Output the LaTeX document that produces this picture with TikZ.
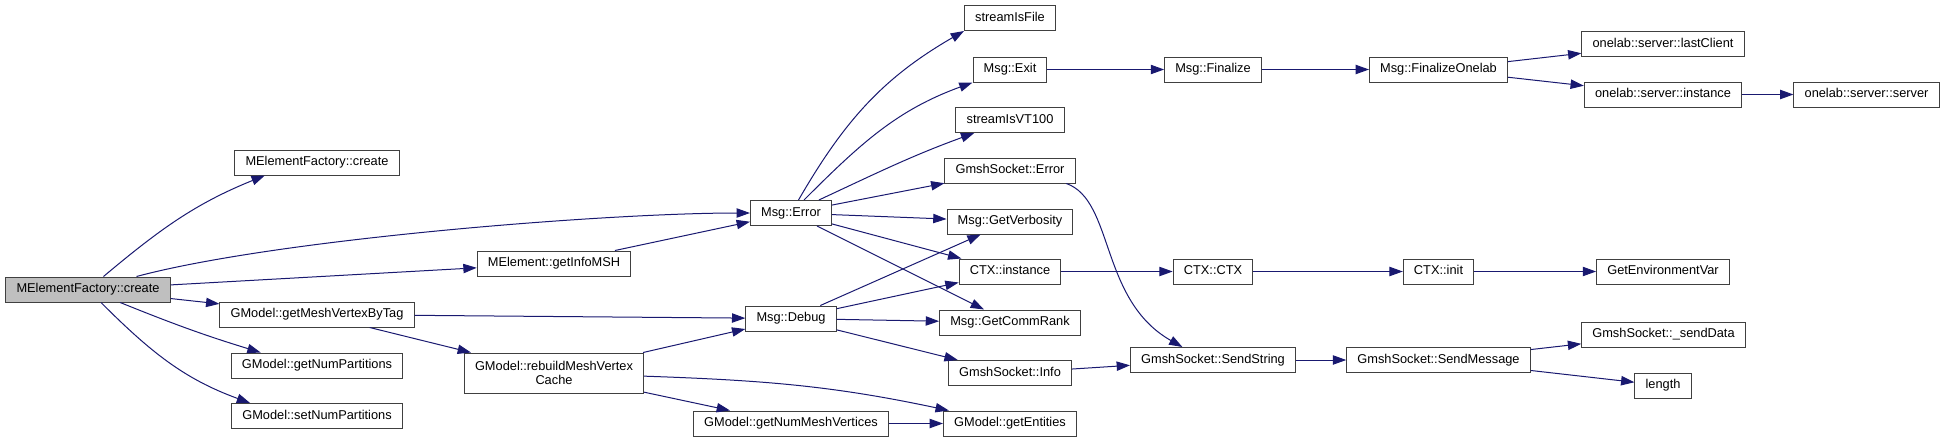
\documentclass[tikz,border=0pt]{standalone}
\usepackage{fontspec}
\setmainfont{Liberation Sans}
\usepackage{xcolor}
\usepackage{tikz}
\usetikzlibrary{arrows.meta}
\definecolor{callblue}{HTML}{191970}
\definecolor{framegrey}{HTML}{404040}
\definecolor{rootgrey}{HTML}{BFBFBF}
\tikzset{
    ->,
    >={Triangle[length=10pt,width=7pt]},
    fn/.style={draw=framegrey, line width=0.75pt, fill=white, inner xsep=8pt, inner ysep=0pt,
        minimum height=18.75pt, text height=7pt, text depth=2pt,
        font=\fontsize{9.6}{10.5}\selectfont},
    rootfn/.style={fn, fill=rootgrey},
    call/.style={draw=callblue, line width=0.75pt},
    every edge/.style={call},
}

\begin{document}
\begin{tikzpicture}[x=0.75pt, y=-0.75pt]
    \useasboundingbox (0,0) rectangle (1944,443);

    % caller and first level
    \node[rootfn] (create)  at (88,289.5)  {MElementFactory::create};
    \node[fn]     (fcreate) at (317,162.5) {MElementFactory::create};
    \node[fn]     (vbt)     at (317,314.5) {GModel::getMeshVertexByTag};
    \node[fn]     (numpart) at (317,365.5) {GModel::getNumPartitions};
    \node[fn]     (setpart) at (317,416)   {GModel::setNumPartitions};
    \node[fn]     (info)    at (554,263.5) {MElement::getInfoMSH};
    \node[fn, align=center, text height=, text depth=, minimum height=30pt]
                  (rebuild) at (554,373)   {GModel::rebuildMeshVertex\\Cache};
    \node[fn]     (err)     at (791,213)   {Msg::Error};
    \node[fn]     (debug)   at (791,318.5) {Msg::Debug};
    \node[fn]     (nummv)   at (791,423.5) {GModel::getNumMeshVertices};

    % middle column
    \node[fn] (sfile) at (1010,18)    {streamIsFile};
    \node[fn] (exit)  at (1010,69.5)  {Msg::Exit};
    \node[fn] (svt)   at (1010,120)   {streamIsVT100};
    \node[fn] (gerr)  at (1010,170.5) {GmshSocket::Error};
    \node[fn] (verb)  at (1010,221.5) {Msg::GetVerbosity};
    \node[fn] (ctxi)  at (1010,271.5) {CTX::instance};
    \node[fn] (rank)  at (1010,322.5) {Msg::GetCommRank};
    \node[fn] (ginfo) at (1010,373)   {GmshSocket::Info};
    \node[fn] (ents)  at (1010,423.5) {GModel::getEntities};

    % right part
    \node[fn] (fin)   at (1213,69.5)   {Msg::Finalize};
    \node[fn] (ctx)   at (1213,271.5)  {CTX::CTX};
    \node[fn] (sstr)  at (1213,360)    {GmshSocket::SendString};
    \node[fn] (fino)  at (1438.5,69.5) {Msg::FinalizeOnelab};
    \node[fn] (cinit) at (1438.5,271.5){CTX::init};
    \node[fn] (smsg)  at (1438.5,360)  {GmshSocket::SendMessage};
    \node[fn] (lastc) at (1663,44)     {onelab::server::lastClient};
    \node[fn] (oinst) at (1663,94.5)   {onelab::server::instance};
    \node[fn] (genv)  at (1663,271.5)  {GetEnvironmentVar};
    \node[fn] (sdata) at (1663.5,334.5){GmshSocket::\_sendData};
    \node[fn] (len)   at (1663,385.5)  {length};
    \node[fn] (osrv)  at (1866.5,94.5) {onelab::server::server};

    \path (create) edge [out=40, in=202] (fcreate.194)
          (create) edge [out=15, in=180, looseness=0.6] (err)
          (create) edge (info)
          (create) edge (vbt)
          (create) edge [out=-22, in=163] (numpart.167)
          (create) edge [out=-45, in=160] (setpart.169);

    \path (info) edge (err)
          (vbt) edge (debug)
          (vbt) edge (rebuild)
          (rebuild) edge (debug)
          (rebuild) edge (nummv)
          (rebuild) edge [out=-2, in=168] (ents)
          (nummv) edge (ents);

    \path (err) edge [out=60, in=210] (sfile.south west)
          (err) edge [out=45, in=200] (exit.south west)
          (err) edge [out=25, in=200] (svt)
          (err) edge (gerr)
          (err) edge (verb)
          (err) edge (ctxi)
          (err) edge (rank);

    \path (debug) edge (verb)
          (debug) edge (ctxi)
          (debug) edge (rank)
          (debug) edge (ginfo);

    \path (exit) edge (fin)
          (fin) edge (fino)
          (fino) edge (lastc)
          (fino) edge (oinst)
          (oinst) edge (osrv)
          (ctxi) edge (ctx)
          (ctx) edge (cinit)
          (cinit) edge (genv);

    \draw[call] (gerr.-13) .. controls +(48,17) and +(-83,-47) .. (sstr.157);
    \path (ginfo) edge (sstr)
          (sstr) edge (smsg)
          (smsg) edge (sdata)
          (smsg) edge (len);
\end{tikzpicture}
\end{document}
